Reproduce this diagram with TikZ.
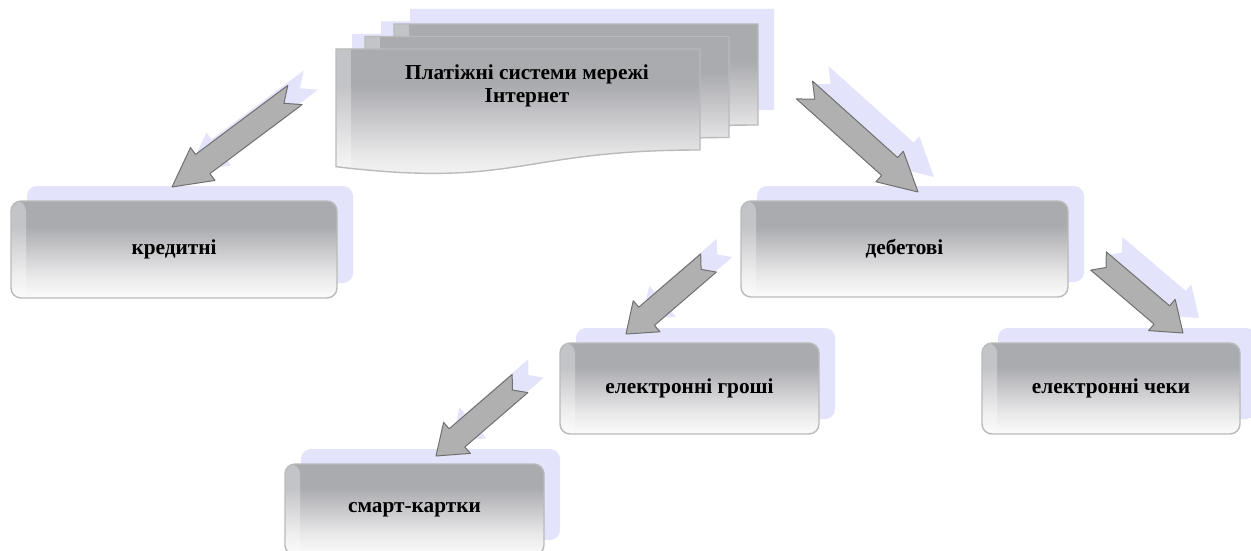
\documentclass[tikz,border=0pt]{standalone}
\usepackage{fontspec}
\setmainfont{Liberation Serif}
\usetikzlibrary{calc,shadows}
\definecolor{lav}{RGB}{227,227,251}
\definecolor{bordergray}{RGB}{186,186,186}
\definecolor{arrowfill}{RGB}{176,176,176}
\definecolor{arrowline}{RGB}{112,112,112}
\definecolor{shA}{RGB}{251,251,251}
\definecolor{shB}{RGB}{232,232,233}
\definecolor{shC}{RGB}{200,200,203}
\definecolor{shD}{RGB}{170,171,175}
\pgfdeclareverticalshading{boxshade}{100bp}{color(0bp)=(shA); color(25bp)=(shA); color(37bp)=(shB); color(50bp)=(shC); color(62bp)=(shD); color(100bp)=(shD)}
\newcommand\blockarrow[3]{%
  \path[#3] ($(#1)!12pt!90:(#2)$) -- ($(#1)!0.75!(#2)!12pt!90:(#2)$)
    -- ($(#1)!0.75!(#2)!20.5pt!90:(#2)$) -- (#2)
    -- ($(#1)!0.75!(#2)!20.5pt!-90:(#2)$) -- ($(#1)!0.75!(#2)!12pt!-90:(#2)$)
    -- ($(#1)!12pt!-90:(#2)$) -- ($(#1)!0.09!(#2)$) -- cycle;}
\newcommand\shadowarrow[2]{%
  \coordinate (#1-s) at ($(#1)+(16,-15)$);
  \coordinate (#2-s) at ($(#2)+(16,-15)$);
  \blockarrow{#1-s}{#2-s}{fill=lav}}
\newcommand\docpath[2]{($(#1,#2)$) -- ($(#1,#2)+(364,0)$) -- ($(#1,#2)+(364,101)$) .. controls ($(#1,#2)+(182,101)$) and ($(#1,#2)+(182,139.5)$) .. ($(#1,#2)+(0,117.7)$) -- cycle}
\tikzset{
  leftglow/.style={path picture={\fill[white,opacity=0.3] (path picture bounding box.north west) rectangle ([xshift=15pt]path picture bounding box.south west);}},
  labelfont/.style={font=\bfseries\fontsize{21.3}{23.5}\selectfont},
  box/.style={rounded corners=10pt, shading=boxshade, draw=bordergray, line width=1.4pt,
    inner sep=0pt, labelfont, leftglow,
    general shadow={fill=lav, shadow xshift=16pt, shadow yshift=15pt}},
  docshape/.style={shading=boxshade, draw=bordergray, line width=1.4pt, leftglow},
  arrowbody/.style={fill=arrowfill, draw=arrowline, line width=1pt, line join=round}
}
\begin{document}
\begin{tikzpicture}[x=1pt,y=-1pt]
\useasboundingbox (0,0) rectangle (1251,551);
% document stack: shadows first
\fill[lav] \docpath{410}{9};
\fill[lav] \docpath{381}{21.5};
\fill[lav] \docpath{352}{34};
\path[docshape] \docpath{394}{24};
\path[docshape] \docpath{365}{36.5};
\path[docshape] \docpath{336}{49};
\node[labelfont, align=center] (title) at (527,86) {Платіжні системи мережі\\Інтернет};
% boxes
\node[box, minimum width=326pt, minimum height=97pt] (kred) at (174,249.5) {кредитні};
\node[box, minimum width=327pt, minimum height=96pt] (deb) at (904.5,249) {дебетові};
\node[box, minimum width=259pt, minimum height=91pt] (egr) at (689.5,388.5) {електронні гроші};
\node[box, minimum width=258pt, minimum height=91pt] (ech) at (1111,388.5) {електронні чеки};
\node[box, minimum width=259pt, minimum height=91pt] (smart) at (414.5,509.5) {смарт-картки};
% arrow end points
\coordinate (a1t) at (295,95);    \coordinate (a1h) at (172,187);
\coordinate (a2t) at (804.5,90);  \coordinate (a2h) at (918,192);
\coordinate (a3t) at (708.5,263); \coordinate (a3h) at (626,334);
\coordinate (a4t) at (1098.5,261);\coordinate (a4h) at (1183,333);
\coordinate (a5t) at (520,383.5); \coordinate (a5h) at (436,456);
\shadowarrow{a1t}{a1h}
\shadowarrow{a2t}{a2h}
\shadowarrow{a3t}{a3h}
\shadowarrow{a4t}{a4h}
\shadowarrow{a5t}{a5h}
\blockarrow{a1t}{a1h}{arrowbody}
\blockarrow{a2t}{a2h}{arrowbody}
\blockarrow{a3t}{a3h}{arrowbody}
\blockarrow{a4t}{a4h}{arrowbody}
\blockarrow{a5t}{a5h}{arrowbody}
\end{tikzpicture}
\end{document}
